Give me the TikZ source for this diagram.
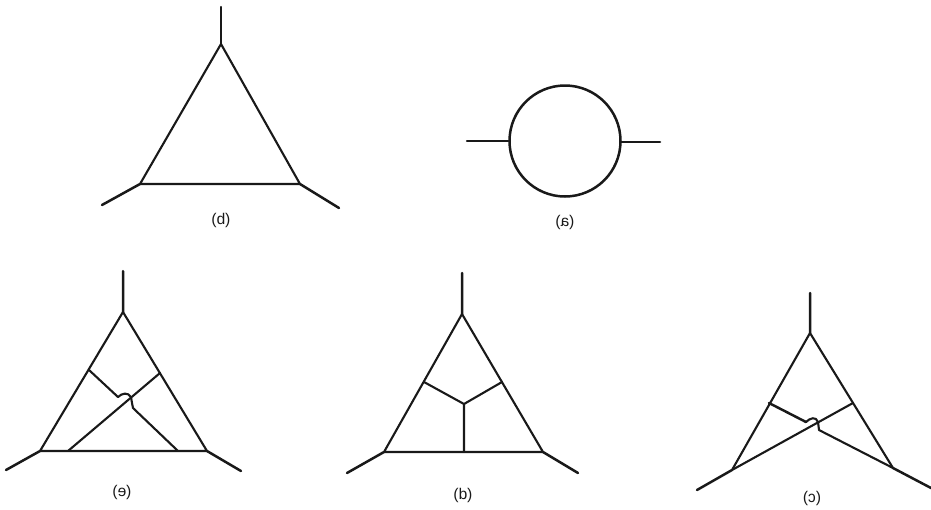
\documentclass[tikz,border=0pt]{standalone}
\usepackage{fontspec}
\setmainfont{Liberation Sans}
\tikzset{
  line/.style={line width=2.5pt,black!90,line cap=round,line join=round},
  thin line/.style={line width=2.1pt,black!90,line cap=round,line join=round},
  cap label/.style={font=\fontsize{15.5pt}{16pt}\selectfont,inner sep=0pt,xscale=-1,transform shape,text=black!90}
}
\begin{document}
\begin{tikzpicture}[x=1pt,y=-1pt]
\useasboundingbox (0,0) rectangle (931,509);
% top left
\coordinate (dt) at (221,7); \coordinate (da) at (221,44);
\coordinate (dl) at (140,184); \coordinate (dr) at (300,184);
\coordinate (dol) at (102,205); \coordinate (dor) at (339,208);
\draw[line] (dt)--(da);
\draw[thin line] (da)--(dl)--(dr)--cycle;
\draw[line] (dl)--(dol) (dr)--(dor);
\node[cap label] (labd) at (221,220) {(b)};
% circle
\node[circle,draw,line width=2.5pt,black!90,minimum size=111pt,inner sep=0pt] (c) at (565,141) {};
\coordinate (cl) at (467,141); \coordinate (cr) at (660,142);
\coordinate (cre) at (620.5,142);
\draw[line] (cl)--(c.west) (cre)--(cr);
\node[cap label] (laba) at (565,222) {(a)};
% bottom left
\coordinate (et) at (123,271); \coordinate (ea) at (123,312);
\coordinate (el) at (40,451); \coordinate (er) at (207,451);
\coordinate (eol) at (6,470); \coordinate (eor) at (241,471);
\coordinate (e1) at (89,370); \coordinate (e2) at (118,397);
\coordinate (e3) at (131,397); \coordinate (e4) at (133,408);
\coordinate (e5) at (178,451);
\coordinate (e6) at (160,373); \coordinate (e7) at (68,451);
\draw[line] (et)--(ea) (el)--(eol) (er)--(eor);
\draw[thin line] (ea)--(el)--(er)--cycle;
\draw[thin line] (e1)--(e2) .. controls (122,393) and (128,392) .. (e3) -- (132,403) -- (e4) -- (e5);
\draw[thin line] (e6)--(e7);
\node[cap label] (labe) at (122,492) {(e)};
% bottom middle
\coordinate (bt) at (462,273); \coordinate (ba) at (462,314);
\coordinate (bl) at (384,452); \coordinate (br) at (543,452);
\coordinate (bol) at (347,473); \coordinate (bor) at (578,473);
\coordinate (b1) at (424,382); \coordinate (b2) at (502,382);
\coordinate (bc) at (464,404); \coordinate (bb) at (464,452);
\draw[line] (bt)--(ba) (bl)--(bol) (br)--(bor);
\draw[thin line] (ba)--(bl)--(br)--cycle;
\draw[thin line] (b1)--(bc)--(b2) (bc)--(bb);
\node[cap label] (labb) at (463,495) {(d)};
% bottom right
\coordinate (ct) at (810,293); \coordinate (ca) at (810,333);
\coordinate (cbl) at (732,470); \coordinate (cbr) at (893,468);
\coordinate (col) at (697,490); \coordinate (cor) at (931,488);
\coordinate (c1) at (769,403); \coordinate (c2) at (806,422);
\coordinate (c3) at (818,422); \coordinate (c4) at (819,430);
\coordinate (c5) at (853,403);
\draw[line] (ct)--(ca) (cbl)--(col) (cbr)--(cor);
\draw[thin line] (ca)--(cbl) (ca)--(cbr);
\draw[line] (c1)--(c2);
\draw[thin line] (c2) .. controls (810,418) and (816,416) .. (c3) -- (c4) -- (cbr);
\draw[thin line] (c5)--(cbl);
\node[cap label] (labc) at (812,498) {(c)};
\end{tikzpicture}
\end{document}
